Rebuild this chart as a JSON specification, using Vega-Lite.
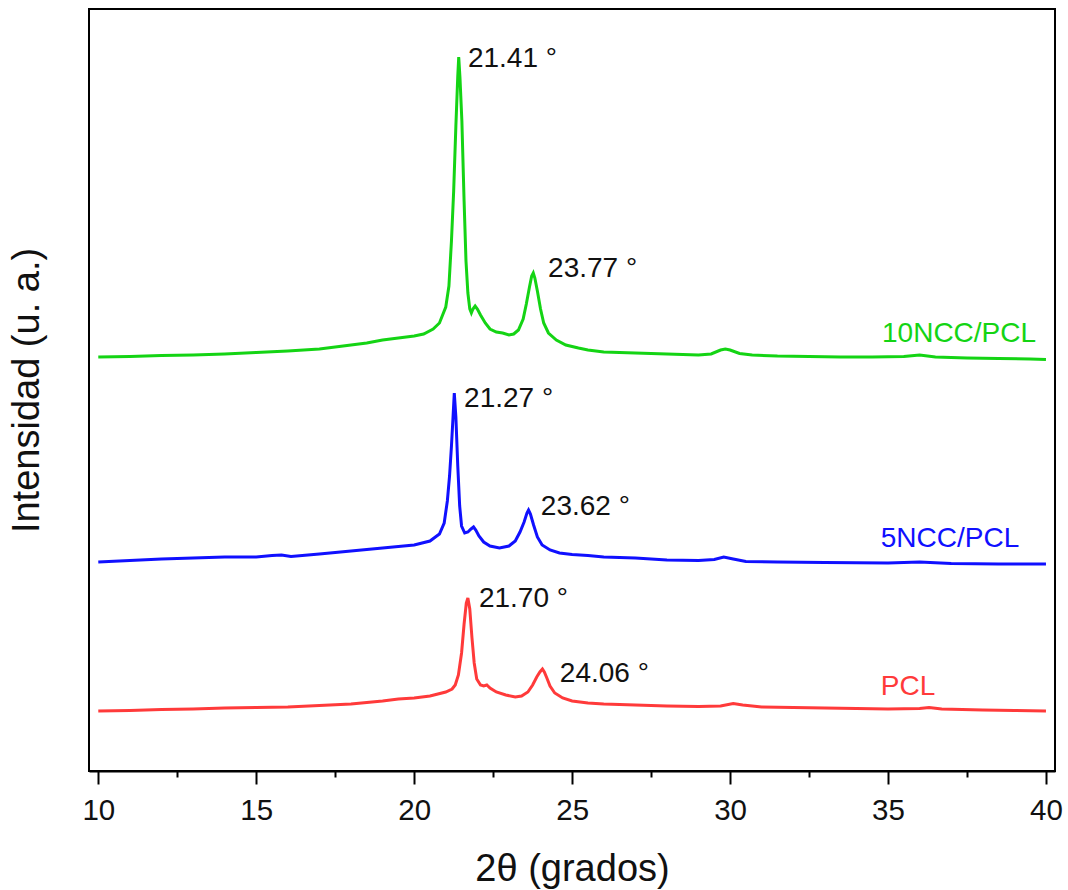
{
"$schema": "https://vega.github.io/schema/vega-lite/v6.json",
"width": 966, "height": 762,
"autosize": {"type": "none"},
"padding": {"left": 89, "top": 9, "right": 13, "bottom": 119},
"background": "white",
"config": {"view": {"stroke": "black", "strokeWidth": 2}, "font": "Liberation Sans"},
"datasets": {
"xrd": [
{"s":"10NCC/PCL","x":10.0,"y":414},{"s":"10NCC/PCL","x":11.0,"y":414.5},{"s":"10NCC/PCL","x":12.0,"y":415.5},{"s":"10NCC/PCL","x":13.0,"y":416},{"s":"10NCC/PCL","x":14.0,"y":417},{"s":"10NCC/PCL","x":15.0,"y":418.5},{"s":"10NCC/PCL","x":16.0,"y":420},{"s":"10NCC/PCL","x":17.0,"y":422},{"s":"10NCC/PCL","x":18.0,"y":426},{"s":"10NCC/PCL","x":18.5,"y":428},{"s":"10NCC/PCL","x":19.0,"y":431},{"s":"10NCC/PCL","x":19.5,"y":433},{"s":"10NCC/PCL","x":20.0,"y":435},{"s":"10NCC/PCL","x":20.3,"y":437},{"s":"10NCC/PCL","x":20.6,"y":442},{"s":"10NCC/PCL","x":20.8,"y":448},{"s":"10NCC/PCL","x":21.0,"y":464},{"s":"10NCC/PCL","x":21.1,"y":485},{"s":"10NCC/PCL","x":21.18,"y":530},{"s":"10NCC/PCL","x":21.25,"y":580},{"s":"10NCC/PCL","x":21.32,"y":645},{"s":"10NCC/PCL","x":21.38,"y":695},{"s":"10NCC/PCL","x":21.41,"y":714},{"s":"10NCC/PCL","x":21.45,"y":693},{"s":"10NCC/PCL","x":21.51,"y":650},{"s":"10NCC/PCL","x":21.58,"y":570},{"s":"10NCC/PCL","x":21.64,"y":510},{"s":"10NCC/PCL","x":21.7,"y":478},{"s":"10NCC/PCL","x":21.76,"y":462},{"s":"10NCC/PCL","x":21.81,"y":458},{"s":"10NCC/PCL","x":21.86,"y":462},{"s":"10NCC/PCL","x":21.93,"y":465},{"s":"10NCC/PCL","x":22.0,"y":462},{"s":"10NCC/PCL","x":22.1,"y":456},{"s":"10NCC/PCL","x":22.25,"y":448},{"s":"10NCC/PCL","x":22.4,"y":442},{"s":"10NCC/PCL","x":22.6,"y":439},{"s":"10NCC/PCL","x":22.8,"y":438},{"s":"10NCC/PCL","x":23.0,"y":436},{"s":"10NCC/PCL","x":23.15,"y":437},{"s":"10NCC/PCL","x":23.3,"y":441},{"s":"10NCC/PCL","x":23.45,"y":452},{"s":"10NCC/PCL","x":23.55,"y":467},{"s":"10NCC/PCL","x":23.65,"y":484},{"s":"10NCC/PCL","x":23.72,"y":495},{"s":"10NCC/PCL","x":23.77,"y":498},{"s":"10NCC/PCL","x":23.82,"y":493},{"s":"10NCC/PCL","x":23.9,"y":480},{"s":"10NCC/PCL","x":24.0,"y":462},{"s":"10NCC/PCL","x":24.1,"y":448},{"s":"10NCC/PCL","x":24.25,"y":438},{"s":"10NCC/PCL","x":24.5,"y":431},{"s":"10NCC/PCL","x":24.8,"y":426},{"s":"10NCC/PCL","x":25.2,"y":423},{"s":"10NCC/PCL","x":25.5,"y":421},{"s":"10NCC/PCL","x":26.0,"y":419},{"s":"10NCC/PCL","x":26.5,"y":418.5},{"s":"10NCC/PCL","x":27.0,"y":418},{"s":"10NCC/PCL","x":27.5,"y":417.5},{"s":"10NCC/PCL","x":28.0,"y":417},{"s":"10NCC/PCL","x":28.5,"y":416.5},{"s":"10NCC/PCL","x":29.0,"y":416},{"s":"10NCC/PCL","x":29.4,"y":417},{"s":"10NCC/PCL","x":29.7,"y":421},{"s":"10NCC/PCL","x":29.85,"y":422},{"s":"10NCC/PCL","x":30.0,"y":421},{"s":"10NCC/PCL","x":30.3,"y":417.5},{"s":"10NCC/PCL","x":30.7,"y":416},{"s":"10NCC/PCL","x":31.5,"y":415},{"s":"10NCC/PCL","x":32.5,"y":414.5},{"s":"10NCC/PCL","x":33.5,"y":414},{"s":"10NCC/PCL","x":34.5,"y":414},{"s":"10NCC/PCL","x":35.5,"y":414.5},{"s":"10NCC/PCL","x":36.0,"y":416},{"s":"10NCC/PCL","x":36.5,"y":414},{"s":"10NCC/PCL","x":37.5,"y":413},{"s":"10NCC/PCL","x":38.5,"y":412.5},{"s":"10NCC/PCL","x":39.5,"y":412},{"s":"10NCC/PCL","x":40.0,"y":411.5},
{"s":"5NCC/PCL","x":10.0,"y":209},{"s":"5NCC/PCL","x":11.0,"y":210.5},{"s":"5NCC/PCL","x":12.0,"y":212},{"s":"5NCC/PCL","x":13.0,"y":213},{"s":"5NCC/PCL","x":14.0,"y":214},{"s":"5NCC/PCL","x":15.0,"y":214},{"s":"5NCC/PCL","x":15.5,"y":215.5},{"s":"5NCC/PCL","x":15.8,"y":216},{"s":"5NCC/PCL","x":16.1,"y":214.5},{"s":"5NCC/PCL","x":17.0,"y":217},{"s":"5NCC/PCL","x":18.0,"y":220},{"s":"5NCC/PCL","x":19.0,"y":223},{"s":"5NCC/PCL","x":19.5,"y":224.5},{"s":"5NCC/PCL","x":20.0,"y":226},{"s":"5NCC/PCL","x":20.5,"y":230},{"s":"5NCC/PCL","x":20.8,"y":237},{"s":"5NCC/PCL","x":20.95,"y":248},{"s":"5NCC/PCL","x":21.05,"y":270},{"s":"5NCC/PCL","x":21.12,"y":295},{"s":"5NCC/PCL","x":21.18,"y":325},{"s":"5NCC/PCL","x":21.23,"y":354},{"s":"5NCC/PCL","x":21.27,"y":378},{"s":"5NCC/PCL","x":21.32,"y":354},{"s":"5NCC/PCL","x":21.38,"y":305},{"s":"5NCC/PCL","x":21.44,"y":265},{"s":"5NCC/PCL","x":21.5,"y":245},{"s":"5NCC/PCL","x":21.6,"y":238},{"s":"5NCC/PCL","x":21.7,"y":239},{"s":"5NCC/PCL","x":21.8,"y":242},{"s":"5NCC/PCL","x":21.88,"y":244},{"s":"5NCC/PCL","x":21.95,"y":241},{"s":"5NCC/PCL","x":22.05,"y":235},{"s":"5NCC/PCL","x":22.2,"y":229},{"s":"5NCC/PCL","x":22.4,"y":225},{"s":"5NCC/PCL","x":22.7,"y":223},{"s":"5NCC/PCL","x":23.0,"y":225},{"s":"5NCC/PCL","x":23.2,"y":230},{"s":"5NCC/PCL","x":23.35,"y":239},{"s":"5NCC/PCL","x":23.48,"y":249},{"s":"5NCC/PCL","x":23.57,"y":258},{"s":"5NCC/PCL","x":23.62,"y":261},{"s":"5NCC/PCL","x":23.68,"y":257},{"s":"5NCC/PCL","x":23.78,"y":246},{"s":"5NCC/PCL","x":23.9,"y":234},{"s":"5NCC/PCL","x":24.05,"y":226},{"s":"5NCC/PCL","x":24.3,"y":221},{"s":"5NCC/PCL","x":24.6,"y":218},{"s":"5NCC/PCL","x":25.0,"y":216.5},{"s":"5NCC/PCL","x":25.5,"y":215.5},{"s":"5NCC/PCL","x":26.0,"y":214},{"s":"5NCC/PCL","x":27.0,"y":213},{"s":"5NCC/PCL","x":28.0,"y":211},{"s":"5NCC/PCL","x":29.0,"y":210.5},{"s":"5NCC/PCL","x":29.5,"y":211.5},{"s":"5NCC/PCL","x":29.8,"y":214},{"s":"5NCC/PCL","x":30.1,"y":212},{"s":"5NCC/PCL","x":30.5,"y":209.5},{"s":"5NCC/PCL","x":31.5,"y":209},{"s":"5NCC/PCL","x":33.0,"y":208.5},{"s":"5NCC/PCL","x":35.0,"y":208},{"s":"5NCC/PCL","x":36.0,"y":209},{"s":"5NCC/PCL","x":37.0,"y":207.5},{"s":"5NCC/PCL","x":38.5,"y":207},{"s":"5NCC/PCL","x":40.0,"y":207},
{"s":"PCL","x":10.0,"y":60},{"s":"PCL","x":11.0,"y":60.5},{"s":"PCL","x":12.0,"y":61.5},{"s":"PCL","x":13.0,"y":62},{"s":"PCL","x":14.0,"y":63},{"s":"PCL","x":15.0,"y":63.5},{"s":"PCL","x":16.0,"y":64},{"s":"PCL","x":17.0,"y":65.5},{"s":"PCL","x":18.0,"y":67},{"s":"PCL","x":19.0,"y":70},{"s":"PCL","x":19.5,"y":72},{"s":"PCL","x":20.0,"y":73},{"s":"PCL","x":20.5,"y":75},{"s":"PCL","x":21.0,"y":79},{"s":"PCL","x":21.2,"y":82},{"s":"PCL","x":21.3,"y":86},{"s":"PCL","x":21.4,"y":96},{"s":"PCL","x":21.5,"y":118},{"s":"PCL","x":21.58,"y":147},{"s":"PCL","x":21.65,"y":168},{"s":"PCL","x":21.7,"y":173},{"s":"PCL","x":21.76,"y":162},{"s":"PCL","x":21.83,"y":133},{"s":"PCL","x":21.9,"y":108},{"s":"PCL","x":21.98,"y":92},{"s":"PCL","x":22.1,"y":86},{"s":"PCL","x":22.2,"y":85},{"s":"PCL","x":22.3,"y":86},{"s":"PCL","x":22.4,"y":83},{"s":"PCL","x":22.6,"y":79},{"s":"PCL","x":22.9,"y":76},{"s":"PCL","x":23.2,"y":74},{"s":"PCL","x":23.4,"y":75},{"s":"PCL","x":23.6,"y":79},{"s":"PCL","x":23.75,"y":86},{"s":"PCL","x":23.88,"y":94},{"s":"PCL","x":23.98,"y":99},{"s":"PCL","x":24.06,"y":102},{"s":"PCL","x":24.12,"y":99},{"s":"PCL","x":24.2,"y":93},{"s":"PCL","x":24.3,"y":85},{"s":"PCL","x":24.45,"y":78},{"s":"PCL","x":24.7,"y":73},{"s":"PCL","x":25.0,"y":70},{"s":"PCL","x":25.5,"y":68},{"s":"PCL","x":26.0,"y":67},{"s":"PCL","x":27.0,"y":66},{"s":"PCL","x":28.0,"y":65},{"s":"PCL","x":29.0,"y":64.5},{"s":"PCL","x":29.7,"y":65},{"s":"PCL","x":30.1,"y":67.5},{"s":"PCL","x":30.4,"y":66},{"s":"PCL","x":31.0,"y":64},{"s":"PCL","x":32.0,"y":63.5},{"s":"PCL","x":33.0,"y":63},{"s":"PCL","x":34.0,"y":62.5},{"s":"PCL","x":35.0,"y":62},{"s":"PCL","x":36.0,"y":62.5},{"s":"PCL","x":36.3,"y":63.5},{"s":"PCL","x":36.7,"y":62},{"s":"PCL","x":38.0,"y":61},{"s":"PCL","x":39.0,"y":60.5},{"s":"PCL","x":40.0,"y":60}
],
"labels": [
{"s":"peak","label":"21.41 °","x":21.70,"y":704},
{"s":"peak","label":"23.77 °","x":24.24,"y":494},
{"s":"peak","label":"21.27 °","x":21.58,"y":364},
{"s":"peak","label":"23.62 °","x":24.01,"y":256},
{"s":"peak","label":"21.70 °","x":22.05,"y":164},
{"s":"peak","label":"24.06 °","x":24.61,"y":89},
{"s":"10NCC/PCL","label":"10NCC/PCL","x":34.81,"y":429},
{"s":"5NCC/PCL","label":"5NCC/PCL","x":34.77,"y":224},
{"s":"PCL","label":"PCL","x":34.77,"y":76}
]
},
"layer": [
{
"data": {"name": "xrd"},
"mark": {"type": "line", "strokeWidth": 3, "clip": true},
"encoding": {
"x": {"field": "x", "type": "quantitative",
 "scale": {"domain": [9.706, 40.286], "nice": false, "zero": false},
 "axis": {
  "values": [10,12.5,15,17.5,20,22.5,25,27.5,30,32.5,35,37.5,40],
  "labelExpr": "datum.value % 5 === 0 ? datum.label : ''",
  "tickSize": {"condition": {"test": "datum.value % 5 === 0", "value": 13}, "value": 6},
  "tickWidth": 2, "tickColor": "black", "domainColor": "black", "domainWidth": 2,
  "labelFontSize": 29.5, "labelColor": "#111111", "labelPadding": 12, "labelFont": "Liberation Sans",
  "labelFlush": false, "labelOverlap": false, "grid": false,
  "title": "2θ (grados)", "titleFontSize": 38, "titleFont": "Liberation Sans", "titleFontWeight": "normal", "titleColor": "#111111", "titlePadding": 26
 }},
"y": {"field": "y", "type": "quantitative",
 "scale": {"domain": [0, 762], "nice": false, "zero": false},
 "axis": {"labels": false, "ticks": false, "domain": false, "grid": false,
  "title": "Intensidad (u. a.)", "titleFontSize": 38, "titleFont": "Liberation Sans", "titleFontWeight": "normal", "titleColor": "#111111", "titlePadding": 43}},
"color": {"field": "s", "type": "nominal",
 "scale": {"domain": ["10NCC/PCL","5NCC/PCL","PCL","peak"], "range": ["#14d414","#1010ff","#ff3a3a","#111111"]},
 "legend": null}
}
},
{
"data": {"name": "labels"},
"mark": {"type": "text", "align": "left", "baseline": "alphabetic", "fontSize": 28, "font": "Liberation Sans"},
"encoding": {
"x": {"field": "x", "type": "quantitative"},
"y": {"field": "y", "type": "quantitative"},
"text": {"field": "label"},
"color": {"field": "s", "type": "nominal", "legend": null}
}
}
]
}
